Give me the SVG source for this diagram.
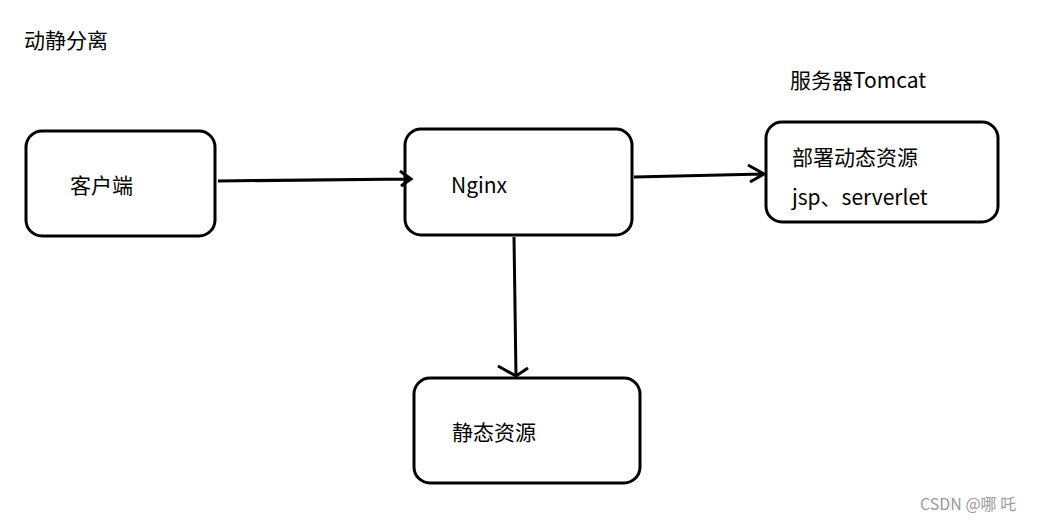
<svg xmlns="http://www.w3.org/2000/svg" width="1053" height="523" viewBox="0 0 1053 523">
<style>
.b{fill:#fff;stroke:#000;stroke-width:3}
.t{font-family:"Microsoft YaHei","Noto Sans CJK SC",sans-serif;font-size:21px;fill:#000}
.c{fill:none;stroke:#000;stroke-width:3}
</style>
<rect width="1053" height="523" fill="#fff"/>
<text class="t" x="24" y="48">动静分离</text>
<text class="t" x="790" y="88">服务器Tomcat</text>
<g id="client"><rect class="b" x="26" y="131" width="189" height="105" rx="16"/><text class="t" x="70" y="193">客户端</text></g>
<g id="nginx"><rect class="b" x="405" y="129" width="227" height="106" rx="16"/><text class="t" x="451" y="193">Nginx</text></g>
<g id="tomcat"><rect class="b" x="766" y="122" width="232" height="100" rx="16"/><text class="t" x="792" y="165">部署动态资源</text><text class="t" x="792" y="205">jsp、serverlet</text></g>
<g id="static"><rect class="b" x="414" y="378" width="226" height="105" rx="16"/><text class="t" x="452" y="440">静态资源</text></g>
<g id="connectors">
<path class="c" d="M218 181 L410 179 M400 171 L411 179 L401 186"/>
<path class="c" d="M634 177 L764 174 M748 165 L764 174 L750 182"/>
<path class="c" d="M514 237 L516 376 M498 366 L516 376 L528 368"/>
</g>
<text x="920" y="510" font-family="Noto Sans CJK SC,sans-serif" font-size="16" fill="#999">CSDN @哪 吒</text>
</svg>
